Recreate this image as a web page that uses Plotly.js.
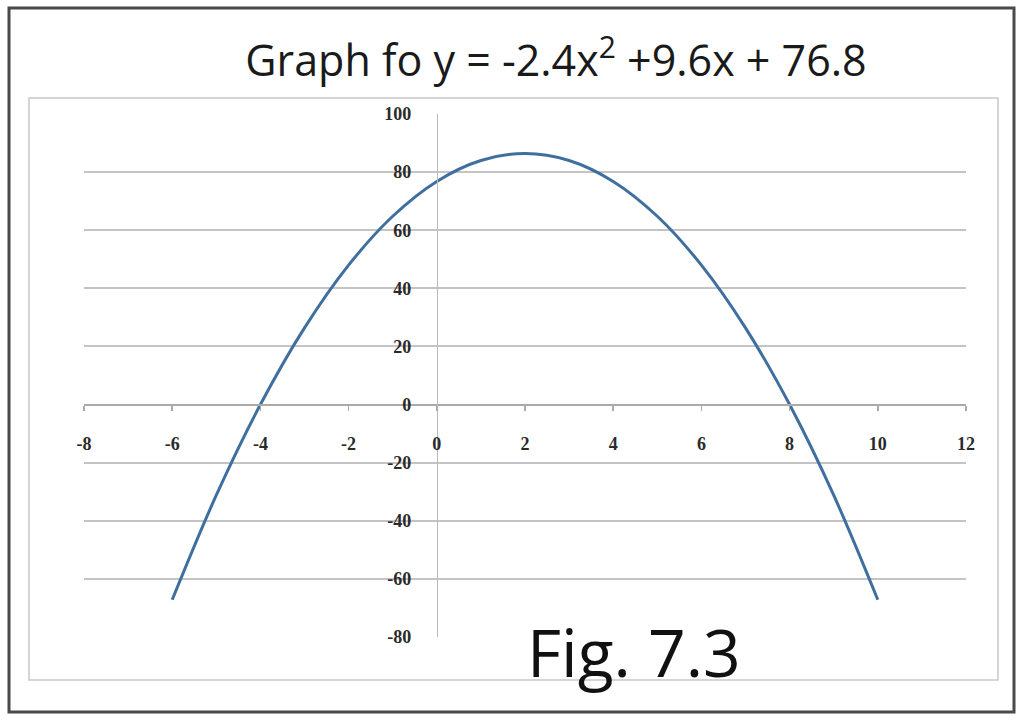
<!DOCTYPE html>
<html>
<head>
<meta charset="utf-8">
<script src="https://cdn.plot.ly/plotly-3.0.1.min.js"></script>
<style>
html,body{margin:0;padding:0;background:#fff;}
#chart{width:1024px;height:724px;}
</style>
</head>
<body>
<div id="chart"></div>
<script>
// Values
const xValues = [-6, -5, -4, -3, -2, -1, 0, 1, 2, 3, 4, 5, 6, 7, 8, 9, 10];
const yValues = [-67.2, -31.2, 0, 26.4, 48, 64.8, 76.8, 84, 86.4, 84, 76.8, 64.8, 48, 26.4, 0, -31.2, -67.2];
const xTicks = [-8, -6, -4, -2, 0, 2, 4, 6, 8, 10, 12];
const yTicks = [-80, -60, -40, -20, 0, 20, 40, 60, 80, 100];
const titleText = "Graph fo y = -2.4x<sup>2</sup> +9.6x + 76.8";
const figLabel = "Fig. 7.3";

const xRange = [xTicks[0], xTicks[xTicks.length - 1]];
const yRange = [yTicks[0], yTicks[yTicks.length - 1]];

// plot area in pixels
const L = 84, R = 58, T = 114, B = 87;
const W = 1024 - L - R, H = 724 - T - B;
const px = p => (p - L) / W;
const py = p => (724 - B - p) / H;

const tickFont = {family: "Liberation Serif, serif", size: 18, color: "#2a2a2a", weight: "bold"};

const trace = {
  x: xValues, y: yValues, type: "scatter", mode: "lines",
  line: {color: "#3f6f9f", width: 3, shape: "spline", smoothing: 1},
  hoverinfo: "skip", showlegend: false
};

const layout = {
  width: 1024, height: 724,
  margin: {l: L, r: R, t: T, b: B},
  paper_bgcolor: "#fff", plot_bgcolor: "#fff",
  showlegend: false,
  title: {
    text: titleText,
    font: {family: "Open Sans, sans-serif", size: 43, color: "#1a1a1a"},
    x: px(556), xanchor: "center", y: 1 - 61 / 724, yanchor: "middle", xref: "paper", yref: "container"
  },
  xaxis: {
    range: xRange, tickvals: xTicks, ticktext: xTicks.map(String),
    showgrid: false, zeroline: false,
    showline: true, linecolor: "#aaa", linewidth: 2,
    ticks: "outside", ticklen: 5, tickcolor: "#aaa", tickwidth: 1.5,
    anchor: "free", position: (0 - yRange[0]) / (yRange[1] - yRange[0]),
    side: "bottom", ticklabelstandoff: 18,
    tickfont: tickFont, fixedrange: true
  },
  yaxis: {
    range: yRange, tickvals: yTicks, ticktext: yTicks.map(String),
    showgrid: true, gridcolor: "#c4c4c4", gridwidth: 2,
    zeroline: false,
    showline: true, linecolor: "#bbb", linewidth: 1.5,
    ticks: "",
    anchor: "free", position: (0 - xRange[0]) / (xRange[1] - xRange[0]),
    side: "left", ticklabelstandoff: 22,
    tickfont: tickFont, fixedrange: true
  },
  shapes: [
    {type: "rect", xref: "paper", yref: "paper",
     x0: px(9), x1: px(1014), y0: py(712), y1: py(8),
     line: {color: "#4a4a4a", width: 3}, layer: "below"},
    {type: "rect", xref: "paper", yref: "paper",
     x0: px(29), x1: px(998), y0: py(680), y1: py(98),
     line: {color: "#c8c8c8", width: 1.5}, layer: "below"}
  ],
  annotations: [
    {text: figLabel, xref: "paper", yref: "paper",
     x: px(634), y: py(651), xanchor: "center", yanchor: "middle",
     showarrow: false, font: {family: "Open Sans, sans-serif", size: 66, color: "#111"}}
  ]
};

Plotly.newPlot("chart", [trace], layout, {staticPlot: true, displayModeBar: false});
</script>
</body>
</html>
